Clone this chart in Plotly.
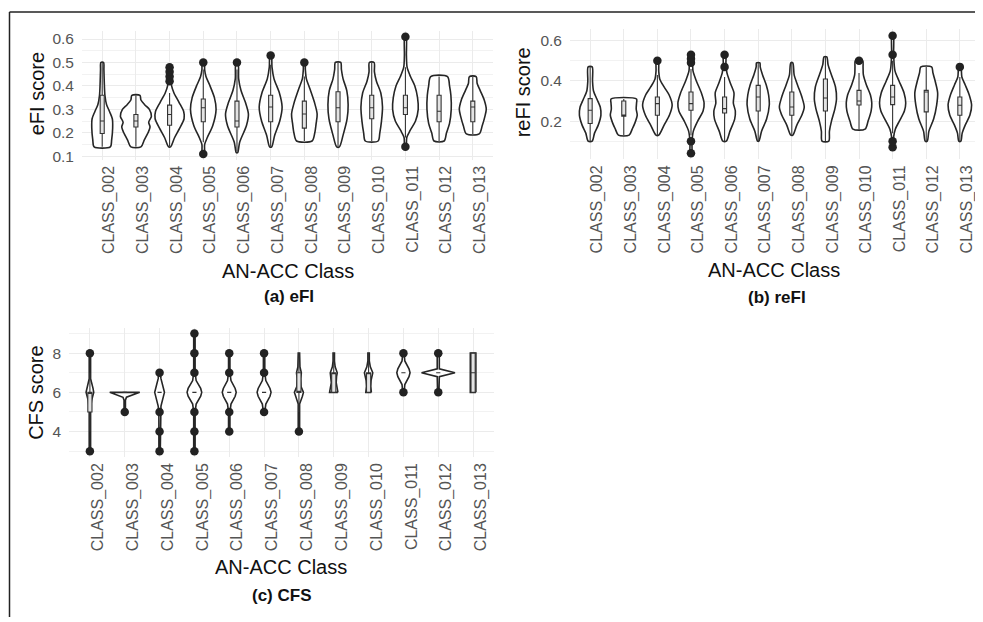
import plotly.graph_objects as go

# Page is rendered with the browser's default 8px body margin, so the figure is
# sized to fill the rest of the 983x622 window.
PAGE_W, PAGE_H = 983, 622
OFF = 8
W, H = PAGE_W - OFF, PAGE_H - OFF

CLASSES = ["CLASS_002", "CLASS_003", "CLASS_004", "CLASS_005", "CLASS_006", "CLASS_007",
           "CLASS_008", "CLASS_009", "CLASS_010", "CLASS_011", "CLASS_012", "CLASS_013"]

# ---------------- (a) eFI ----------------
EFI_Q1 = [0.197, 0.225, 0.232, 0.247, 0.225, 0.247, 0.220, 0.247, 0.260, 0.278, 0.247, 0.247]
EFI_MEDIAN = [0.250, 0.250, 0.278, 0.307, 0.250, 0.310, 0.280, 0.307, 0.307, 0.307, 0.292, 0.310]
EFI_Q3 = [0.360, 0.278, 0.318, 0.344, 0.335, 0.360, 0.335, 0.375, 0.360, 0.360, 0.360, 0.335]
EFI_WHISKER_LOW = [0.14, 0.14, 0.14, 0.16, 0.12, 0.14, 0.165, 0.14, 0.165, 0.18, 0.165, 0.195]
EFI_WHISKER_HIGH = [0.50, 0.36, 0.37, 0.47, 0.47, 0.49, 0.44, 0.50, 0.50, 0.48, 0.44, 0.44]
EFI_OUTLIERS = [[], [], [0.42, 0.44, 0.46, 0.48], [0.11, 0.50], [0.50], [0.53], [0.50],
                [], [], [0.14, 0.61], [], []]
# density profile: (score, relative half-width)
EFI_DENSITY = [
    [(0.14, 0.24), (0.17, 0.28), (0.22, 0.31), (0.26, 0.30), (0.29, 0.22), (0.32, 0.13), (0.36, 0.08), (0.42, 0.06), (0.47, 0.05), (0.50, 0.04)],
    [(0.14, 0.15), (0.17, 0.25), (0.20, 0.36), (0.225, 0.42), (0.245, 0.38), (0.27, 0.46), (0.30, 0.40), (0.32, 0.26), (0.34, 0.15), (0.36, 0.12)],
    [(0.14, 0.03), (0.18, 0.15), (0.22, 0.30), (0.26, 0.43), (0.29, 0.42), (0.33, 0.28), (0.37, 0.13), (0.40, 0.06), (0.44, 0.04), (0.48, 0.03)],
    [(0.11, 0.03), (0.15, 0.04), (0.18, 0.12), (0.23, 0.28), (0.30, 0.38), (0.35, 0.33), (0.40, 0.20), (0.44, 0.08), (0.47, 0.04), (0.50, 0.03)],
    [(0.115, 0.02), (0.16, 0.08), (0.23, 0.28), (0.28, 0.34), (0.33, 0.25), (0.38, 0.12), (0.43, 0.05), (0.50, 0.03)],
    [(0.14, 0.03), (0.19, 0.12), (0.25, 0.27), (0.31, 0.34), (0.37, 0.26), (0.43, 0.10), (0.48, 0.04), (0.53, 0.02)],
    [(0.165, 0.23), (0.20, 0.31), (0.24, 0.35), (0.28, 0.38), (0.33, 0.30), (0.39, 0.16), (0.43, 0.06), (0.47, 0.03), (0.50, 0.02)],
    [(0.14, 0.04), (0.19, 0.15), (0.26, 0.27), (0.32, 0.30), (0.38, 0.26), (0.43, 0.15), (0.47, 0.10), (0.50, 0.08)],
    [(0.165, 0.19), (0.20, 0.24), (0.25, 0.29), (0.31, 0.32), (0.37, 0.27), (0.42, 0.14), (0.46, 0.08), (0.50, 0.07)],
    [(0.14, 0.02), (0.18, 0.04), (0.21, 0.14), (0.25, 0.30), (0.30, 0.38), (0.35, 0.36), (0.40, 0.28), (0.44, 0.15), (0.48, 0.05), (0.53, 0.03), (0.61, 0.02)],
    [(0.165, 0.15), (0.20, 0.22), (0.24, 0.31), (0.30, 0.36), (0.36, 0.35), (0.40, 0.31), (0.44, 0.25)],
    [(0.195, 0.19), (0.23, 0.28), (0.27, 0.36), (0.30, 0.40), (0.34, 0.34), (0.38, 0.22), (0.41, 0.13), (0.44, 0.10)],
]

# ---------------- (b) reFI ----------------
REFI_Q1 = [0.188, 0.225, 0.229, 0.254, 0.240, 0.250, 0.229, 0.250, 0.280, 0.282, 0.246, 0.229]
REFI_MEDIAN = [0.254, 0.230, 0.287, 0.287, 0.262, 0.320, 0.270, 0.315, 0.300, 0.320, 0.345, 0.279]
REFI_Q3 = [0.312, 0.300, 0.320, 0.345, 0.320, 0.378, 0.345, 0.410, 0.353, 0.378, 0.353, 0.320]
REFI_WHISKER_LOW = [0.10, 0.13, 0.13, 0.13, 0.10, 0.10, 0.13, 0.10, 0.16, 0.14, 0.10, 0.10]
REFI_WHISKER_HIGH = [0.47, 0.31, 0.43, 0.46, 0.42, 0.49, 0.49, 0.52, 0.44, 0.50, 0.47, 0.42]
REFI_OUTLIERS = [[], [], [0.50], [0.04, 0.10, 0.49, 0.51, 0.53], [0.47, 0.53], [], [], [],
                 [0.50], [0.07, 0.10, 0.53, 0.625], [], [0.47]]
REFI_DENSITY = [
    [(0.10, 0.06), (0.14, 0.13), (0.18, 0.24), (0.23, 0.32), (0.27, 0.30), (0.31, 0.20), (0.35, 0.10), (0.40, 0.07), (0.47, 0.06)],
    [(0.13, 0.16), (0.16, 0.25), (0.19, 0.33), (0.23, 0.40), (0.26, 0.37), (0.29, 0.38), (0.31, 0.38)],
    [(0.13, 0.04), (0.18, 0.20), (0.23, 0.36), (0.28, 0.44), (0.33, 0.35), (0.37, 0.20), (0.41, 0.07), (0.45, 0.04), (0.50, 0.03)],
    [(0.04, 0.02), (0.10, 0.03), (0.15, 0.07), (0.20, 0.20), (0.25, 0.36), (0.29, 0.39), (0.34, 0.31), (0.40, 0.16), (0.45, 0.06), (0.53, 0.03)],
    [(0.10, 0.05), (0.15, 0.16), (0.21, 0.30), (0.25, 0.32), (0.29, 0.26), (0.34, 0.28), (0.39, 0.17), (0.44, 0.07), (0.48, 0.04), (0.53, 0.03)],
    [(0.10, 0.02), (0.15, 0.10), (0.21, 0.25), (0.28, 0.33), (0.33, 0.31), (0.38, 0.24), (0.43, 0.13), (0.47, 0.06), (0.49, 0.05)],
    [(0.13, 0.03), (0.18, 0.15), (0.23, 0.30), (0.27, 0.37), (0.32, 0.30), (0.38, 0.17), (0.43, 0.07), (0.49, 0.03)],
    [(0.10, 0.10), (0.15, 0.12), (0.20, 0.18), (0.26, 0.28), (0.31, 0.33), (0.37, 0.30), (0.43, 0.18), (0.48, 0.08), (0.52, 0.04)],
    [(0.16, 0.18), (0.20, 0.27), (0.25, 0.36), (0.29, 0.38), (0.33, 0.34), (0.38, 0.22), (0.43, 0.13), (0.47, 0.12), (0.50, 0.11)],
    [(0.07, 0.02), (0.12, 0.03), (0.16, 0.08), (0.20, 0.20), (0.25, 0.35), (0.29, 0.39), (0.34, 0.34), (0.40, 0.19), (0.45, 0.07), (0.53, 0.03), (0.625, 0.02)],
    [(0.10, 0.03), (0.15, 0.08), (0.21, 0.22), (0.28, 0.31), (0.34, 0.34), (0.39, 0.28), (0.44, 0.20), (0.47, 0.16)],
    [(0.10, 0.03), (0.14, 0.07), (0.18, 0.16), (0.23, 0.30), (0.28, 0.35), (0.33, 0.28), (0.38, 0.16), (0.42, 0.06), (0.47, 0.03)],
]

# ---------------- (c) CFS ----------------
CFS_Q1 = [5, 6, 6, 6, 6, 6, 6, 6, 6, 7, 7, 6]
CFS_MEDIAN = [6, 6, 6, 6, 6, 6, 6, 7, 7, 7, 7, 7]
CFS_Q3 = [6, 6, 6, 6, 6, 6, 7, 7, 7, 7, 7, 8]
CFS_WHISKER_LOW = [4, 6, 6, 6, 6, 6, 5, 6, 6, 7, 7, 6]
CFS_WHISKER_HIGH = [7, 6, 6, 6, 6, 6, 8, 8, 8, 7, 7, 8]
CFS_OUTLIERS = [[3, 8], [5], [3, 4, 5, 7], [3, 4, 5, 7, 8, 9], [4, 5, 7, 8], [5, 7, 8], [4],
                [], [], [6, 8], [6, 8], []]
CFS_DENSITY = [
    [(3, 0.02), (5.2, 0.02), (5.6, 0.05), (6.0, 0.11), (6.2, 0.09), (6.7, 0.02), (8, 0.02)],
    [(5, 0.02), (5.6, 0.02), (5.75, 0.05), (6.0, 0.43)],
    [(3, 0.02), (5.0, 0.02), (5.3, 0.04), (6.0, 0.14), (6.7, 0.04), (7, 0.02)],
    [(3, 0.02), (5.0, 0.02), (5.4, 0.05), (5.8, 0.18), (6.0, 0.21), (6.2, 0.18), (6.6, 0.05), (7.0, 0.02), (9, 0.02)],
    [(4, 0.02), (5.0, 0.02), (5.4, 0.05), (5.8, 0.17), (6.0, 0.20), (6.2, 0.17), (6.6, 0.05), (7.0, 0.02), (8, 0.02)],
    [(5, 0.02), (5.4, 0.05), (5.8, 0.17), (6.0, 0.20), (6.2, 0.17), (6.6, 0.05), (7.0, 0.02), (8, 0.02)],
    [(4, 0.02), (5.4, 0.02), (5.8, 0.10), (6.0, 0.13), (6.3, 0.06), (6.7, 0.05), (7.0, 0.07), (7.3, 0.03), (8, 0.02)],
    [(6, 0.12), (6.2, 0.10), (6.5, 0.07), (6.8, 0.08), (7.0, 0.10), (7.3, 0.04), (7.6, 0.02), (8, 0.02)],
    [(6, 0.08), (6.3, 0.06), (6.6, 0.07), (7.0, 0.12), (7.3, 0.05), (7.6, 0.02), (8, 0.02)],
    [(6, 0.02), (6.4, 0.04), (6.8, 0.16), (7.0, 0.19), (7.2, 0.16), (7.6, 0.04), (8, 0.02)],
    [(6, 0.02), (6.8, 0.03), (7.0, 0.48), (7.2, 0.03), (7.8, 0.03), (8.0, 0.10)],
    [(6, 0.08), (8, 0.08)],
]

FONT = "Liberation Sans, Arial, Helvetica, sans-serif"
DARK = "#262626"
TICK_COLOR = "#555555"
GRID = "#ebebeb"
MINOR_GRID = "#f2f2f2"
X_RANGE = [0.4, 12.6]

fig = go.Figure()

# base axes (x, x2, x3) hold violins; overlay axes (x4, x5, x6) hold boxes + outliers on top
panels = [
    dict(xa="x", ya="y", ox="x4", oy="y4", yr=[0.085, 0.635], q1=EFI_Q1, med=EFI_MEDIAN, q3=EFI_Q3,
         lo=EFI_WHISKER_LOW, hi=EFI_WHISKER_HIGH, out=EFI_OUTLIERS, dens=EFI_DENSITY, shape="spline"),
    dict(xa="x2", ya="y2", ox="x5", oy="y5", yr=[0.0105, 0.6595], q1=REFI_Q1, med=REFI_MEDIAN, q3=REFI_Q3,
         lo=REFI_WHISKER_LOW, hi=REFI_WHISKER_HIGH, out=REFI_OUTLIERS, dens=REFI_DENSITY, shape="spline"),
    dict(xa="x3", ya="y3", ox="x6", oy="y6", yr=[2.7, 9.3], q1=CFS_Q1, med=CFS_MEDIAN, q3=CFS_Q3,
         lo=CFS_WHISKER_LOW, hi=CFS_WHISKER_HIGH, out=CFS_OUTLIERS, dens=CFS_DENSITY, shape="linear"),
]

positions = list(range(1, len(CLASSES) + 1))

for p in panels:
    for pos, prof in zip(positions, p["dens"]):
        ys = [v for v, _ in prof]
        ws = [w for _, w in prof]
        xs = [pos + w for w in ws] + [pos - w for w in reversed(ws)] + [pos + ws[0]]
        yy = ys + ys[::-1] + [ys[0]]
        fig.add_trace(go.Scatter(
            x=xs, y=yy, mode="lines", fill="toself", fillcolor="white",
            line=dict(color=DARK, width=1.6, shape=p["shape"], smoothing=0.8),
            xaxis=p["xa"], yaxis=p["ya"], hoverinfo="skip", showlegend=False))
    fig.add_trace(go.Box(
        x=positions, q1=p["q1"], median=p["med"], q3=p["q3"],
        lowerfence=p["lo"], upperfence=p["hi"], width=0.12, whiskerwidth=0,
        fillcolor="#e3e3e3", line=dict(color="#333333", width=1.1),
        boxpoints=False, xaxis=p["ox"], yaxis=p["oy"], showlegend=False, hoverinfo="skip"))
    ox, oy = [], []
    for pos, outs in zip(positions, p["out"]):
        for v in outs:
            ox.append(pos)
            oy.append(v)
    fig.add_trace(go.Scatter(
        x=ox, y=oy, mode="markers", marker=dict(color="#222222", size=8.5),
        xaxis=p["ox"], yaxis=p["oy"], hoverinfo="skip", showlegend=False))


def px(x):
    return (x - OFF) / W


def py(y):
    return 1 - (y - OFF) / H


def xaxis_cfg(d0, d1, anchor, shift):
    return dict(domain=[px(d0), px(d1)], anchor=anchor, range=X_RANGE,
                tickmode="array", tickvals=positions, ticktext=CLASSES, tickangle=-90,
                showgrid=True, gridcolor=GRID, gridwidth=1.2, zeroline=False, showline=False,
                ticks="", tickfont=dict(family=FONT, size=16, color=TICK_COLOR),
                ticklabelshift=shift, ticklabelstandoff=2)


def yaxis_cfg(t0, t1, anchor, rng, tick0, dtick, mdtick, fmt):
    return dict(domain=[py(t1), py(t0)], anchor=anchor, range=rng,
                tickmode="linear", tick0=tick0, dtick=dtick, tickformat=fmt,
                showgrid=True, gridcolor=GRID, gridwidth=1.2, zeroline=False, showline=False,
                ticks="", tickfont=dict(family=FONT, size=15.5, color=TICK_COLOR),
                ticklabelstandoff=7,
                minor=dict(dtick=mdtick, tick0=tick0, showgrid=True, gridcolor=MINOR_GRID, gridwidth=1))


def overlay_x(base, anchor):
    return dict(overlaying=base, anchor=anchor, range=X_RANGE, visible=False, showgrid=False, zeroline=False)


def overlay_y(base, anchor, rng):
    return dict(overlaying=base, anchor=anchor, range=rng, visible=False, showgrid=False, zeroline=False)


fig.update_layout(
    width=W, height=H, margin=dict(l=0, r=0, t=0, b=0),
    paper_bgcolor="white", plot_bgcolor="white", showlegend=False,
    font=dict(family=FONT),
    xaxis=xaxis_cfg(82, 493, "y", 7),
    yaxis=yaxis_cfg(31, 161, "x", panels[0]["yr"], 0.1, 0.1, 0.05, ".1f"),
    xaxis2=xaxis_cfg(570, 980, "y2", 7),
    yaxis2=yaxis_cfg(29, 160.4, "x2", panels[1]["yr"], 0.2, 0.2, 0.1, ".1f"),
    xaxis3=xaxis_cfg(69, 494, "y3", 8),
    yaxis3=yaxis_cfg(330.3, 460.7, "x3", panels[2]["yr"], 0, 2, 1, "d"),
    xaxis4=overlay_x("x", "y4"), yaxis4=overlay_y("y", "x4", panels[0]["yr"]),
    xaxis5=overlay_x("x2", "y5"), yaxis5=overlay_y("y2", "x5", panels[1]["yr"]),
    xaxis6=overlay_x("x3", "y6"), yaxis6=overlay_y("y3", "x6", panels[2]["yr"]),
)

annotations = [
    ("eFI score", 37, 95, -90, 20, False),
    ("reFI score", 523, 93, -90, 20, False),
    ("CFS score", 36, 396, -90, 20, False),
    ("AN-ACC Class", 288, 273, 0, 20, False),
    ("AN-ACC Class", 774, 272, 0, 20, False),
    ("AN-ACC Class", 281, 572, 0, 20, False),
    ("(a) eFI", 289, 299, 0, 17, True),
    ("(b) reFI", 777, 300, 0, 17, True),
    ("(c) CFS", 282, 600, 0, 17, True),
]
for text, x, y, ang, size, bold in annotations:
    fig.add_annotation(
        text=f"<b>{text}</b>" if bold else text, x=px(x), y=py(y), xref="paper", yref="paper",
        xanchor="center", yanchor="middle", showarrow=False, textangle=ang,
        font=dict(family=FONT, size=size, color="#111111"))

fig.add_shape(type="line", xref="paper", yref="paper", x0=px(9.5), x1=px(981), y0=py(12), y1=py(12),
              line=dict(color="#222222", width=1.5))
fig.add_shape(type="line", xref="paper", yref="paper", x0=px(9.5), x1=px(9.5), y0=py(12), y1=0,
              line=dict(color="#222222", width=1.5))

fig.write_html("out.html")
